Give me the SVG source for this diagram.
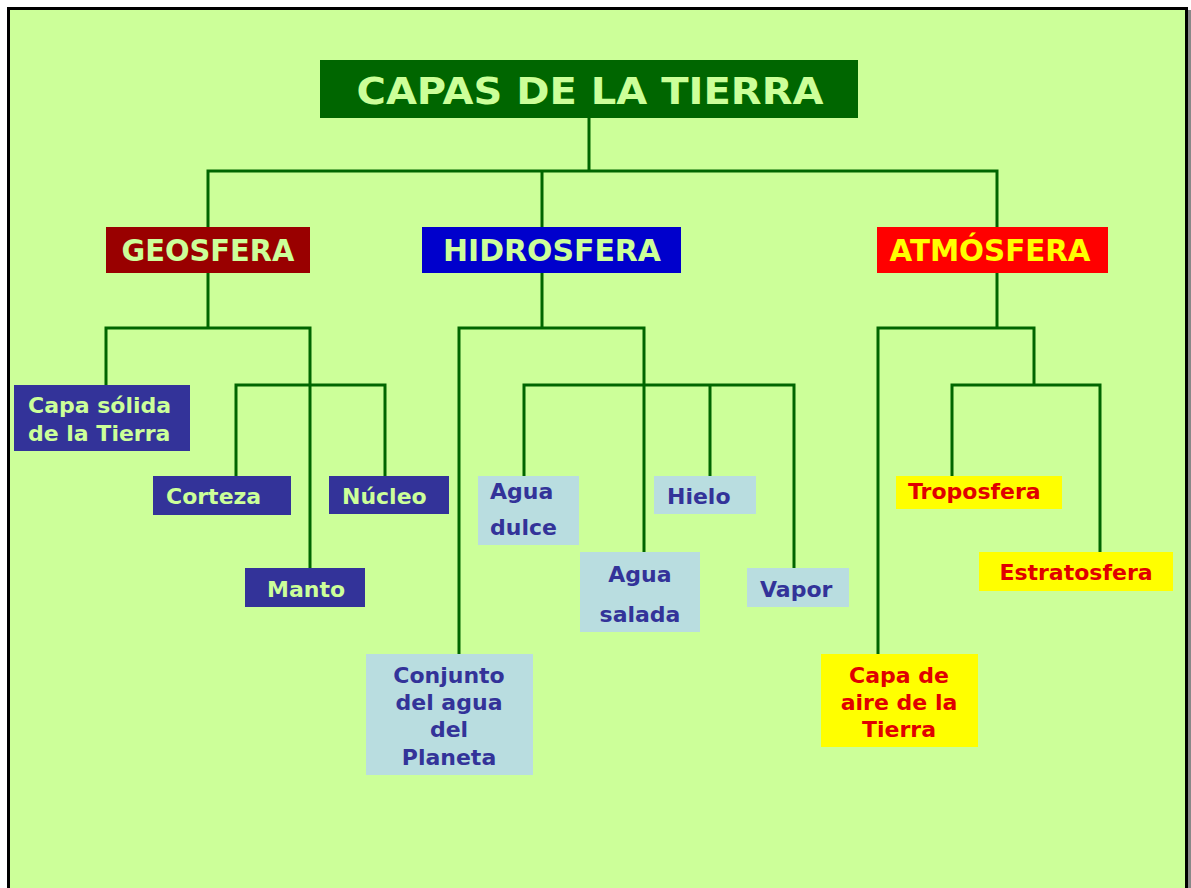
<svg xmlns="http://www.w3.org/2000/svg" width="1191" height="888" viewBox="0 0 1191 888">
<style>
text{font-family:"DejaVu Sans","Verdana",sans-serif;font-weight:bold}
.l1{font-size:29.5px}
.n{font-size:22px}
.c{fill:none;stroke:#006600;stroke-width:3;stroke-linejoin:miter}
.dk{fill:#333399}
.dkt{fill:#CCFF99}
.lb{fill:#B9DDE0}
.lbt{fill:#333399}
.yl{fill:#FFFF00}
.ylt{fill:#E00000}
</style>
<rect x="0" y="0" width="1191" height="888" fill="#FFFFFF"/>
<rect x="1188" y="10" width="3" height="878" fill="#888888"/>
<rect x="8.5" y="8.5" width="1178" height="890" fill="#CCFF99" stroke="#000000" stroke-width="3"/>
<g id="connectors">
<path class="c" d="M589 118V171M208 227V171H997V227M542 171V227"/>
<path class="c" d="M208 273V328M106 385V328H310V568M236 476V385H385V476"/>
<path class="c" d="M542 273V328M459 654V328H644V552M524 476V385H794V568M710 385V476"/>
<path class="c" d="M997 273V328M878 654V328H1034V385M952 476V385H1100V552"/>
</g>
<g id="title">
<rect x="320" y="60" width="538" height="58" fill="#006600"/>
<text x="590" y="104" font-size="38" text-anchor="middle" fill="#CCFF99" textLength="467" lengthAdjust="spacingAndGlyphs">CAPAS DE LA TIERRA</text>
</g>
<g id="geosfera">
<rect x="106" y="227" width="204" height="46" fill="#990000"/>
<text class="l1" x="208" y="261" text-anchor="middle" fill="#CCFF99" textLength="173" lengthAdjust="spacingAndGlyphs">GEOSFERA</text>
</g>
<g id="hidrosfera">
<rect x="422" y="227" width="259" height="46" fill="#0000CC"/>
<text class="l1" x="552" y="261" text-anchor="middle" fill="#CCFF99" textLength="218" lengthAdjust="spacingAndGlyphs">HIDROSFERA</text>
</g>
<g id="atmosfera">
<rect x="877" y="227" width="231" height="46" fill="#FF0000"/>
<text class="l1" x="990" y="261" text-anchor="middle" fill="#FFFF00" textLength="201" lengthAdjust="spacingAndGlyphs">ATMÓSFERA</text>
</g>
<g id="capa-solida">
<rect class="dk" x="14" y="385" width="176" height="66"/>
<text class="n dkt" x="28" y="413">Capa sólida</text>
<text class="n dkt" x="28" y="441">de la Tierra</text>
</g>
<g id="corteza">
<rect class="dk" x="153" y="476" width="138" height="39"/>
<text class="n dkt" x="166" y="504">Corteza</text>
</g>
<g id="nucleo">
<rect class="dk" x="329" y="476" width="120" height="38"/>
<text class="n dkt" x="342" y="504">Núcleo</text>
</g>
<g id="manto">
<rect class="dk" x="245" y="568" width="120" height="39"/>
<text class="n dkt" x="267" y="597">Manto</text>
</g>
<g id="agua-dulce">
<rect class="lb" x="478" y="476" width="101" height="69"/>
<text class="n lbt" x="490" y="499">Agua</text>
<text class="n lbt" x="490" y="535">dulce</text>
</g>
<g id="hielo">
<rect class="lb" x="654" y="476" width="102" height="38"/>
<text class="n lbt" x="667" y="504">Hielo</text>
</g>
<g id="agua-salada">
<rect class="lb" x="580" y="552" width="120" height="80"/>
<text class="n lbt" x="640" y="582" text-anchor="middle">Agua</text>
<text class="n lbt" x="640" y="622" text-anchor="middle">salada</text>
</g>
<g id="vapor">
<rect class="lb" x="747" y="568" width="102" height="39"/>
<text class="n lbt" x="760" y="597">Vapor</text>
</g>
<g id="conjunto">
<rect class="lb" x="366" y="654" width="167" height="121"/>
<text class="n lbt" x="449" y="683" text-anchor="middle">Conjunto</text>
<text class="n lbt" x="449" y="710" text-anchor="middle">del agua</text>
<text class="n lbt" x="449" y="737" text-anchor="middle">del</text>
<text class="n lbt" x="449" y="765" text-anchor="middle">Planeta</text>
</g>
<g id="troposfera">
<rect class="yl" x="896" y="476" width="166" height="33"/>
<text class="n ylt" x="908" y="499">Troposfera</text>
</g>
<g id="estratosfera">
<rect class="yl" x="979" y="552" width="194" height="39"/>
<text class="n ylt" x="1076" y="580" text-anchor="middle">Estratosfera</text>
</g>
<g id="capa-aire">
<rect class="yl" x="821" y="654" width="157" height="93"/>
<text class="n ylt" x="899" y="683" text-anchor="middle">Capa de</text>
<text class="n ylt" x="899" y="710" text-anchor="middle">aire de la</text>
<text class="n ylt" x="899" y="737" text-anchor="middle">Tierra</text>
</g>
</svg>
